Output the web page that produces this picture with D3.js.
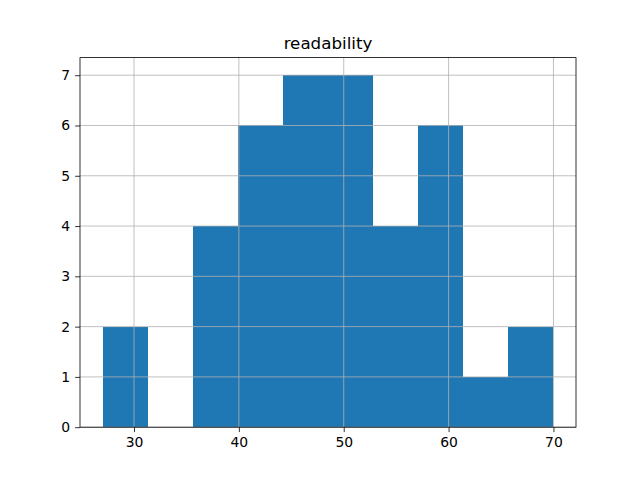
<!DOCTYPE html>
<html>
<head>
<script src="https://cdnjs.cloudflare.com/ajax/libs/d3/7.8.5/d3.min.js"></script>
<style>
  body { margin: 0; background: #fff; }
  text { font-family: "DejaVu Sans", sans-serif; }
</style>
</head>
<body>
<div id="chart"></div>
<script>
// histogram bins (edges) and counts
const binEdges = [27, 31.3, 35.6, 39.9, 44.2, 48.5, 52.8, 57.1, 61.4, 65.7, 70]
const counts = [2, 0, 4, 6, 7, 7, 4, 6, 1, 2]
const xTicks = [30, 40, 50, 60, 70]
const yTicks = [0, 1, 2, 3, 4, 5, 6, 7]
const title = "readability"

const W = 640, H = 480
const M = { top: 57.6, right: 64, bottom: 52.8, left: 80 }
const iw = W - M.left - M.right, ih = H - M.top - M.bottom

let svg = d3.select("#chart").append("svg").attr("width", W).attr("height", H)
let g = svg.append("g").attr("transform", `translate(${M.left},${M.top})`)

let span = binEdges[binEdges.length - 1] - binEdges[0]
let x = d3.scaleLinear().domain([binEdges[0] - span * 0.05, binEdges[binEdges.length - 1] + span * 0.05]).range([0, iw])
let yMax = d3.max(counts) * 1.05
let y = d3.scaleLinear().domain([0, yMax]).range([ih, 0])

let bins = counts.map((c, i) => ({ x0: binEdges[i], x1: binEdges[i + 1], n: c }))

g.selectAll("rect.bar").data(bins).enter().append("rect")
  .attr("class", "bar")
  .attr("x", d => x(d.x0))
  .attr("width", d => x(d.x1) - x(d.x0))
  .attr("y", d => y(d.n))
  .attr("height", d => ih - y(d.n))
  .attr("fill", "#1f77b4")
  .attr("shape-rendering", "crispEdges")

// grid (drawn over bars like matplotlib)
xTicks.forEach(t => {
  g.append("line").attr("x1", x(t)).attr("x2", x(t)).attr("y1", 0).attr("y2", ih)
    .attr("stroke", "#b0b0b0").attr("stroke-width", 0.8)
})
yTicks.forEach(t => {
  g.append("line").attr("x1", 0).attr("x2", iw).attr("y1", y(t)).attr("y2", y(t))
    .attr("stroke", "#b0b0b0").attr("stroke-width", 0.8)
})

let xAxis = g.append("g").attr("transform", `translate(0,${ih})`)
  .call(d3.axisBottom(x).tickValues(xTicks).tickSize(4.9).tickPadding(4.9).tickSizeOuter(0))
let yAxis = g.append("g")
  .call(d3.axisLeft(y).tickValues(yTicks).tickSize(4.9).tickPadding(4.9).tickSizeOuter(0))
;[xAxis, yAxis].forEach(a => {
  a.select(".domain").remove()
  a.selectAll("text").style("font-size", "13.9px").attr("fill", "#000")
  a.selectAll("line").attr("stroke", "#000").attr("stroke-width", 0.8)
})

// spines
g.append("rect").attr("x", 0).attr("y", 0).attr("width", iw).attr("height", ih)
  .attr("fill", "none").attr("stroke", "#000").attr("stroke-width", 0.8)

g.append("text").attr("x", iw / 2).attr("y", -8.5).attr("text-anchor", "middle")
  .style("font-size", "16.7px").text(title)
</script>
</body>
</html>
